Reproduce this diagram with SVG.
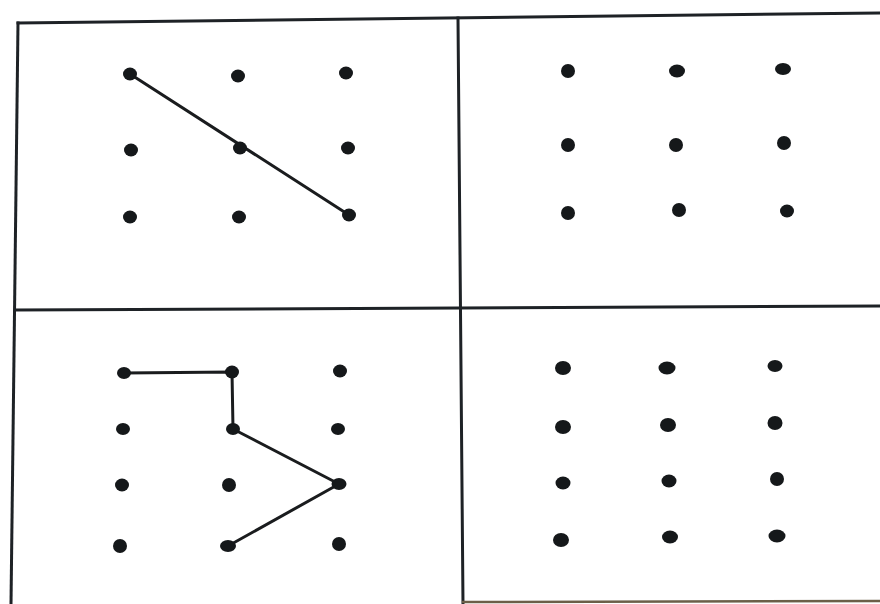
<svg xmlns="http://www.w3.org/2000/svg" width="880" height="604" viewBox="0 0 880 604">
<style>
.frame{stroke:#1e2226;stroke-width:3;fill:none;stroke-linecap:square}
.dot{fill:#15181a}
.edge{stroke:#1a1c1e;stroke-width:3;fill:none;stroke-linejoin:round;stroke-linecap:round}
</style>
<rect width="880" height="604" fill="#ffffff"/>
<g id="frame">
<path class="frame" d="M18,23 L880,13"/>
<path class="frame" d="M18,23 L11,604"/>
<path class="frame" d="M458,18 L463,604"/>
<path class="frame" d="M15,310 L880,306"/>
<path d="M462,602 L880,601" stroke="#6b5f48" stroke-width="2.5" fill="none"/>
</g>
<g id="connectors">
<path class="edge" d="M130,74 L349,215"/>
<path class="edge" d="M124,373 L232,372 L233,429 L339,484 L228,546"/>
</g>
<g id="panel1">
<ellipse class="dot" cx="130" cy="74" rx="7" ry="6.5"/>
<ellipse class="dot" cx="238" cy="76" rx="7" ry="6.5"/>
<ellipse class="dot" cx="346" cy="73" rx="7" ry="6.5"/>
<ellipse class="dot" cx="131" cy="150" rx="7" ry="6.5"/>
<ellipse class="dot" cx="240" cy="148" rx="7" ry="6.5"/>
<ellipse class="dot" cx="348" cy="148" rx="7" ry="6.5"/>
<ellipse class="dot" cx="130" cy="217" rx="7" ry="6.5"/>
<ellipse class="dot" cx="239" cy="217" rx="7" ry="6.5"/>
<ellipse class="dot" cx="349" cy="215" rx="7" ry="6.5"/>
</g>
<g id="panel2">
<ellipse class="dot" cx="568" cy="71" rx="7" ry="7"/>
<ellipse class="dot" cx="677" cy="71" rx="8" ry="6.5"/>
<ellipse class="dot" cx="783" cy="69" rx="8" ry="6"/>
<ellipse class="dot" cx="568" cy="145" rx="7" ry="7"/>
<ellipse class="dot" cx="676" cy="145" rx="7" ry="7"/>
<ellipse class="dot" cx="784" cy="143" rx="7" ry="7"/>
<ellipse class="dot" cx="568" cy="213" rx="7" ry="7"/>
<ellipse class="dot" cx="679" cy="210" rx="7" ry="7"/>
<ellipse class="dot" cx="787" cy="211" rx="7" ry="6.5"/>
</g>
<g id="panel3">
<ellipse class="dot" cx="124" cy="373" rx="7" ry="6"/>
<ellipse class="dot" cx="232" cy="372" rx="7" ry="6.5"/>
<ellipse class="dot" cx="340" cy="371" rx="7" ry="6.5"/>
<ellipse class="dot" cx="123" cy="429" rx="7" ry="6"/>
<ellipse class="dot" cx="233" cy="429" rx="7" ry="6"/>
<ellipse class="dot" cx="338" cy="429" rx="7" ry="6"/>
<ellipse class="dot" cx="122" cy="485" rx="7" ry="6.5"/>
<ellipse class="dot" cx="229" cy="485" rx="7" ry="7"/>
<ellipse class="dot" cx="339" cy="484" rx="7.5" ry="6"/>
<ellipse class="dot" cx="120" cy="546" rx="7" ry="7"/>
<ellipse class="dot" cx="228" cy="546" rx="8" ry="6"/>
<ellipse class="dot" cx="339" cy="544" rx="7" ry="7"/>
</g>
<g id="panel4">
<ellipse class="dot" cx="563" cy="368" rx="8" ry="7"/>
<ellipse class="dot" cx="667" cy="368" rx="8.5" ry="6.5"/>
<ellipse class="dot" cx="775" cy="366" rx="7.5" ry="6"/>
<ellipse class="dot" cx="563" cy="427" rx="8" ry="7"/>
<ellipse class="dot" cx="668" cy="425" rx="8" ry="7"/>
<ellipse class="dot" cx="775" cy="423" rx="7.5" ry="7"/>
<ellipse class="dot" cx="563" cy="483" rx="7.5" ry="6.5"/>
<ellipse class="dot" cx="669" cy="481" rx="7.5" ry="6.5"/>
<ellipse class="dot" cx="777" cy="479" rx="7" ry="7"/>
<ellipse class="dot" cx="561" cy="540" rx="8" ry="7"/>
<ellipse class="dot" cx="670" cy="537" rx="8" ry="6.5"/>
<ellipse class="dot" cx="777" cy="536" rx="8.5" ry="6.5"/>
</g>
</svg>
